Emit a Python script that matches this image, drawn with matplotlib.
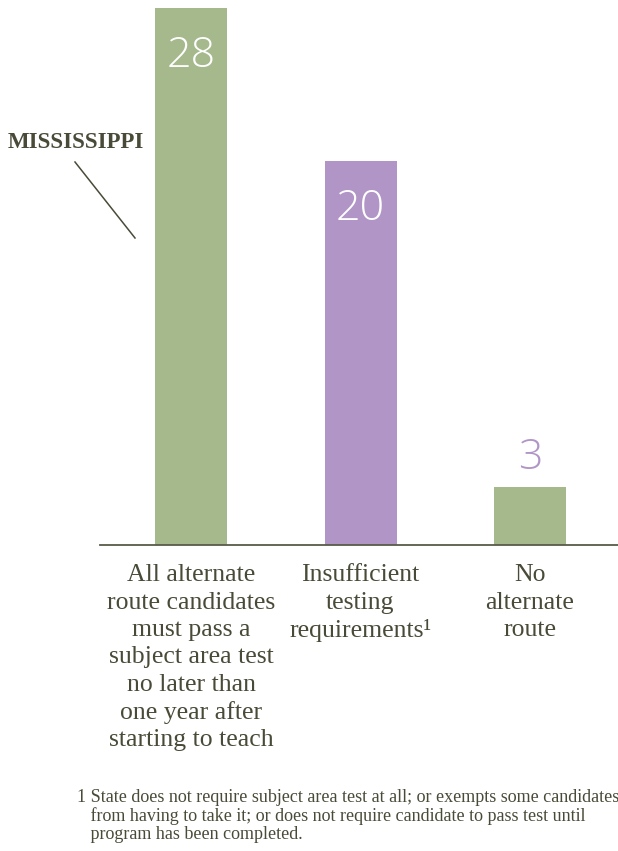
import matplotlib.pyplot as plt

# Data
categories = ["All alternate\nroute candidates\nmust pass a\nsubject area test\nno later than\none year after\nstarting to teach",
              "Insufficient\ntesting\nrequirements\u00b9",
              "No\nalternate\nroute"]
values = [28, 20, 3]
colors = ["#a6b98c", "#b195c7", "#a6b98c"]
footnote = ("1 State does not require subject area test at all; or exempts some candidates\n"
            "   from having to take it; or does not require candidate to pass test until\n"
            "   program has been completed.")

text_col = "#4a4a38"
serif = ["Liberation Serif", "DejaVu Serif"]

fig = plt.figure(figsize=(6.18, 8.51), dpi=100)
ax = fig.add_axes([100 / 618, 1 - 545 / 851, 518 / 618, (545 - 8) / 851])

x = range(len(values))
ax.bar(x, values, width=0.425, color=colors)
ax.set_xlim(-0.537, 2.519)
ax.set_ylim(0, 28)

# value labels: inside tall bars, above the short one
for i, v in enumerate(values):
    if v > 10:
        ax.annotate(str(v), (i, v), xytext=(0, -19), textcoords="offset points",
                    ha="center", va="top", fontsize=31, color="white",
                    family=["Open Sans", "DejaVu Sans"], fontweight="light")
    else:
        ax.annotate(str(v), (i, v), xytext=(0, 6), textcoords="offset points",
                    ha="center", va="bottom", fontsize=31, color=colors[1],
                    family=["Open Sans", "DejaVu Sans"], fontweight="light")

for s in ["top", "right", "left"]:
    ax.spines[s].set_visible(False)
ax.spines["bottom"].set_color("#5a5a4a")
ax.spines["bottom"].set_linewidth(1.3)
ax.set_yticks([])
ax.set_xticks(list(x))
ax.set_xticklabels(categories, fontsize=18.5, family=serif, color=text_col,
                   linespacing=1.31)
ax.tick_params(axis="x", length=0, pad=14)

# annotation
fig.text(8 / 618, 1 - 148 / 851, "MISSISSIPPI", fontsize=16.5, fontweight="bold",
         family=serif, color=text_col, ha="left", va="baseline")
fig.add_artist(plt.Line2D([75 / 618, 135 / 618], [1 - 162 / 851, 1 - 238 / 851],
                          color=text_col, linewidth=1.1))

fig.text(77 / 618, 1 - 789 / 851, footnote, fontsize=13, family=serif,
         color=text_col, ha="left", va="top", linespacing=1.08)

fig.savefig("out.png", dpi=100)
